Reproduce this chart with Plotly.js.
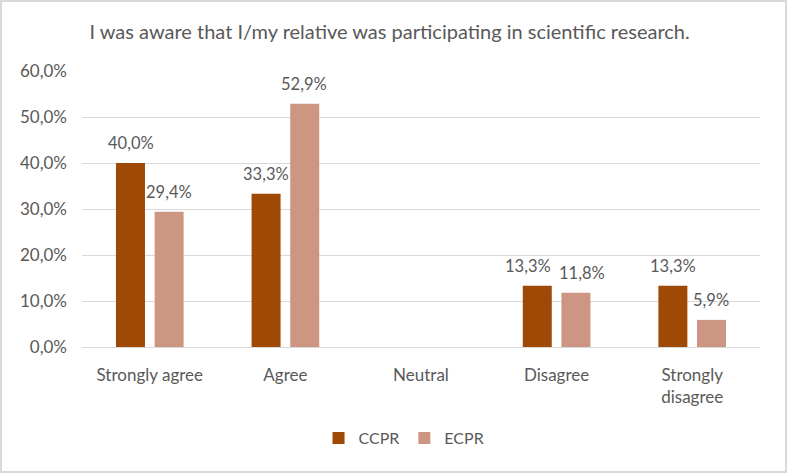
<!DOCTYPE html>
<html>
<head>
<meta charset="utf-8">
<script src="https://cdn.plot.ly/plotly-3.0.1.min.js"></script>
<style>
html,body{margin:0;padding:0;background:#fff;}
#wrap{width:787px;height:473px;box-sizing:border-box;border:2px solid #d9d9d9;}
#chart{width:783px;height:469px;}
</style>
</head>
<body>
<div id="wrap"><div id="chart"></div></div>
<script>
const categories = ["Strongly agree", "Agree", "Neutral", "Disagree", "Strongly<br>disagree"];
const ccpr = [0.400, 0.333, null, 0.133, 0.133];
const ecpr = [0.294, 0.529, null, 0.118, 0.059];
const yTicks = [0, 0.1, 0.2, 0.3, 0.4, 0.5, 0.6];

const font = "Lato, 'Open Sans', sans-serif";
const grey = "#595959";

const traces = [
  {type:"bar", name:"CCPR", x:categories, y:ccpr, marker:{color:"#9E4A06"}},
  {type:"bar", name:"ECPR", x:categories, y:ecpr, marker:{color:"#CC9682"}}
];

function fmt(v){ return (v*100).toFixed(1).replace(".", ",") + "%"; }

// label nudges (pixels) to keep adjacent labels apart, as in the original
const nudge = {CCPR:{3:-10}, ECPR:{3:6}};

const annotations = [];
[["CCPR", ccpr, -19], ["ECPR", ecpr, 19]].forEach(([name, arr, dx]) => {
  arr.forEach((v, i) => {
    if (v === null) return;
    annotations.push({x:categories[i], y:v, xref:"x", yref:"y", text:fmt(v), showarrow:false,
      xshift:dx + ((nudge[name] && nudge[name][i]) || 0), yshift:20, yanchor:"middle", xanchor:"center",
      font:{family:font, size:16.5, color:grey}});
  });
});

const layout = {
  width:783, height:469,
  margin:{l:80, r:25, t:69, b:124},
  paper_bgcolor:"#fff", plot_bgcolor:"#fff",
  separators:", ",
  font:{family:font, color:grey, size:17},
  title:{text:"I was aware that I/my relative was participating in scientific research.",
         font:{family:font, size:20, color:grey}, x:0.495, xref:"container", xanchor:"center",
         y:0.935, yref:"container", yanchor:"middle"},
  barmode:"group", bargap:0.43, bargroupgap:0.25,
  annotations:annotations,
  xaxis:{type:"category", showgrid:false, showline:false, zeroline:false, ticks:"",
         tickfont:{family:font, size:17, color:grey}, ticklabelstandoff:16},
  yaxis:{range:[0,0.6], tickvals:yTicks, tickformat:".1%", showgrid:true, gridcolor:"#d9d9d9",
         gridwidth:1, zeroline:true, zerolinecolor:"#d9d9d9", zerolinewidth:1, showline:false,
         ticks:"", tickfont:{family:font, size:17, color:grey}, ticklabelstandoff:14},
  showlegend:true,
  legend:{orientation:"h", x:0.475, xanchor:"center", y:-0.33, yanchor:"middle",
          font:{family:font, size:16, color:grey}, itemwidth:30, traceorder:"normal"}
};

Plotly.newPlot("chart", traces, layout, {displayModeBar:false, staticPlot:true});
</script>
</body>
</html>
